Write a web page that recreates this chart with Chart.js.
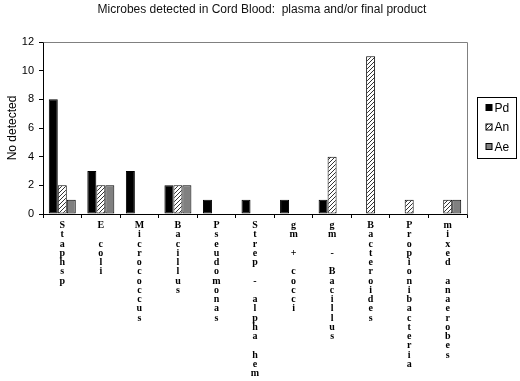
<!DOCTYPE html>
<html>
<head>
<meta charset="utf-8">
<script src="https://cdn.jsdelivr.net/npm/chart.js@4/dist/chart.umd.min.js"></script>
<style>
html,body{margin:0;padding:0;background:#fff;}
#wrap{width:520px;height:381px;position:relative;}
</style>
</head>
<body>
<div id="wrap"><canvas id="c" width="520" height="381"></canvas></div>
<script>
const chartTitle = 'Microbes detected in Cord Blood:  plasma and/or final product';
const yTitle = 'No detected';
const categories = ['Staphsp','E coli','Micrococcus','Bacillus','Pseudomonas','Strep - alpha hem','gm + cocci','gm - Bacillus','Bacteroides','Propionibacteria','mixed anaerobes'];
const seriesNames = ['Pd','An','Ae'];
const pdValues = [8,3,3,2,1,1,1,1,0,0,0];
const anValues = [2,2,0,2,0,0,0,4,11,1,1];
const aeValues = [1,2,0,2,0,0,0,0,0,0,1];
const yTicks = [0,2,4,6,8,10,12];

function hatchPattern(){
  const c=document.createElement('canvas'); c.width=4; c.height=4;
  const x=c.getContext('2d');
  x.fillStyle='#fff'; x.fillRect(0,0,4,4);
  x.strokeStyle='#333'; x.lineWidth=1;
  x.beginPath();
  x.moveTo(0,4); x.lineTo(4,0);
  x.moveTo(-1,1); x.lineTo(1,-1);
  x.moveTo(3,5); x.lineTo(5,3);
  x.stroke();
  return document.getElementById('c').getContext('2d').createPattern(c,'repeat');
}
const hatch = hatchPattern();
const fills = ['#000000', hatch, '#808080'];

const bw = ctx => (ctx.raw ? 1 : 0);

const extrasPlugin = {
  id:'extras',
  afterDraw(chart){
    const ctx=chart.ctx, ca=chart.chartArea;
    ctx.save();
    // title
    ctx.fillStyle='#111';
    ctx.font='12px "Liberation Sans", Arial, sans-serif';
    ctx.textAlign='center'; ctx.textBaseline='middle';
    ctx.fillText(chartTitle, 262, 10);
    // plot border (top/right)
    ctx.strokeStyle='#808080'; ctx.lineWidth=1;
    ctx.beginPath();
    ctx.moveTo(Math.round(ca.left)+0.5, Math.round(ca.top)+0.5);
    ctx.lineTo(Math.round(ca.right)+0.5, Math.round(ca.top)+0.5);
    ctx.lineTo(Math.round(ca.right)+0.5, Math.round(ca.bottom)+0.5);
    ctx.stroke();
    // legend
    const x0=Math.round(ca.right)+10.5, y0=97.5, w=39, h=61;
    ctx.fillStyle='#fff'; ctx.fillRect(x0,y0,w,h);
    ctx.strokeStyle='#000'; ctx.strokeRect(x0,y0,w,h);
    ctx.font='12px "Liberation Sans", Arial, sans-serif';
    ctx.textBaseline='middle'; ctx.textAlign='left';
    chart.data.datasets.forEach((ds,i)=>{
      const cy=108+i*19.5;
      ctx.fillStyle=ds.backgroundColor;
      ctx.fillRect(x0+8.5, cy-3.5, 6, 6);
      ctx.strokeStyle='#000';
      ctx.strokeRect(x0+8.5, cy-3.5, 6, 6);
      ctx.fillStyle='#000';
      ctx.fillText(ds.label, x0+17, cy+0.5);
    });
    ctx.restore();
  }
};

new Chart(document.getElementById('c'), {
  type:'bar',
  data:{
    labels: categories.map(s=>s.split('').map(ch=>ch===' '?'':ch)),
    datasets:[
      {label:seriesNames[0], data:pdValues, backgroundColor:fills[0], borderColor:'#000', borderWidth:bw},
      {label:seriesNames[1], data:anValues, backgroundColor:fills[1], borderColor:'#000', borderWidth:bw},
      {label:seriesNames[2], data:aeValues, backgroundColor:fills[2], borderColor:'#000', borderWidth:bw}
    ]
  },
  options:{
    responsive:false, animation:false, devicePixelRatio:1,
    layout:{padding:{left:0,right:53,top:42,bottom:0}},
    plugins:{
      legend:{display:false}, tooltip:{enabled:false}, title:{display:false}
    },
    datasets:{bar:{categoryPercentage:0.7, barPercentage:1, borderSkipped:false}},
    scales:{
      x:{
        grid:{display:true, offset:true, drawOnChartArea:false, tickLength:4, color:'#000'},
        border:{color:'#000'},
        ticks:{autoSkip:false, maxRotation:0, minRotation:0, padding:3, color:'#000',
          font:{family:'"Liberation Serif", "Times New Roman", serif', size:10, weight:'bold', lineHeight:'9.25px'}},
        afterFit(s){ s.height=167; }
      },
      y:{
        min:0, max:12,
        afterBuildTicks(s){ s.ticks = yTicks.map(v=>({value:v})); },
        grid:{display:true, drawOnChartArea:false, tickLength:4, color:'#000'},
        border:{color:'#000'},
        ticks:{padding:5, color:'#000', font:{family:'"Liberation Sans", Arial, sans-serif', size:11}},
        title:{display:true, text:yTitle, color:'#000', padding:{top:5,bottom:0},
          font:{family:'"Liberation Sans", Arial, sans-serif', size:12}},
        afterFit(s){ s.width=43; }
      }
    }
  },
  plugins:[extrasPlugin]
});
</script>
</body>
</html>
